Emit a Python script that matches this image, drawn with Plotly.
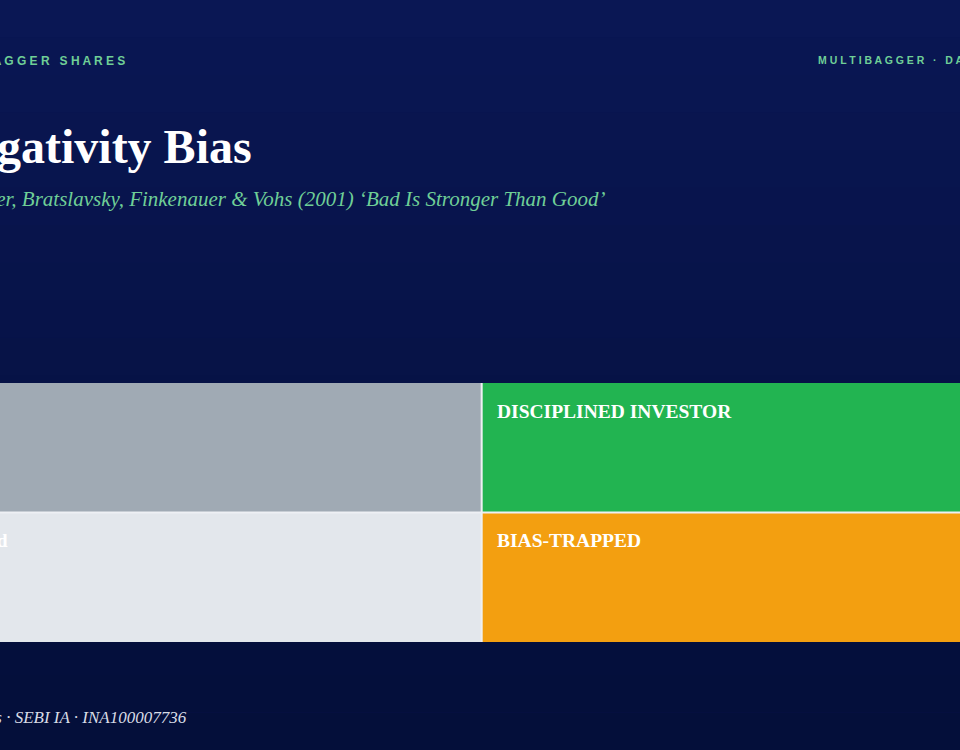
import plotly.graph_objects as go

# 2x2 matrix: columns (low/high discipline), rows (top/bottom)
cols = ["Reactive", "Disciplined"]
rows = ["Bias-Trapped row", "Disciplined row"]
cell_codes = [[1, 3],   # bottom row: light grey, orange
              [0, 2]]   # top row: grey, green
cell_labels = [["Emotion-Led", "BIAS-TRAPPED"],
               ["", "DISCIPLINED INVESTOR"]]

W, H = 960, 750
serif = "Liberation Serif, DejaVu Serif, serif"
sans = "Liberation Sans, Arial, sans-serif"

colorscale = [[0.0, "#a0aab4"], [0.25, "#a0aab4"],
              [0.25, "#e3e7ec"], [0.5, "#e3e7ec"],
              [0.5, "#22b451"], [0.75, "#22b451"],
              [0.75, "#f39f10"], [1.0, "#f39f10"]]

fig = go.Figure(go.Heatmap(
    z=cell_codes, x=[0, 1], y=[0, 1],
    zmin=-0.5, zmax=3.5, colorscale=colorscale, showscale=False,
    hoverinfo="skip"))

# vertical background gradient, top navy -> darker bottom
top_c = (10, 23, 84)
bot_c = (4, 15, 58)
n = 20
for i in range(n):
    f = i / (n - 1)
    c = tuple(int(top_c[k] + (bot_c[k] - top_c[k]) * f) for k in range(3))
    fig.add_shape(type="rect", xref="paper", yref="paper", x0=0, x1=1,
                  y0=1 - (i + 1) / n, y1=1 - i / n, line_width=0,
                  fillcolor="rgb(%d,%d,%d)" % c, layer="below")

# white dividers between the quadrants
fig.add_shape(type="line", xref="x", yref="y", x0=0.5, x1=0.5, y0=-0.5, y1=1.5,
              line=dict(color="#eef0f4", width=2))
fig.add_shape(type="line", xref="x", yref="y", x0=-0.5, x1=1.5, y0=0.5, y1=0.5,
              line=dict(color="#eef0f4", width=2))

def px(x, y):
    return x / W, 1 - y / H

def ann(text, x, y, size, color, font, anchor="left", bold=False, italic=False):
    t = text
    if bold:
        t = "<b>" + t + "</b>"
    if italic:
        t = "<i>" + t + "</i>"
    ax, ay = px(x, y)
    fig.add_annotation(text=t, x=ax, y=ay, xref="paper", yref="paper",
                       xanchor=anchor, yanchor="middle", showarrow=False,
                       font=dict(size=size, color=color, family=font))

ann("M U L T I B A G G E R &nbsp; S H A R E S", 127, 61, 12, "#6fcf97", sans, "right", bold=True)
ann("M U L T I B A G G E R &nbsp; · &nbsp; D A T A", 816, 60, 10.5, "#6fcf97", sans, "left", bold=True)
ann("Negativity Bias", 254, 146, 48, "#ffffff", serif, "right", bold=True)
ann("Baumeister, Bratslavsky, Finkenauer &amp; Vohs (2001) ‘Bad Is Stronger Than Good’",
    607, 199, 21, "#6fcf97", serif, "right", italic=True)
ann("Multibagger Shares · SEBI IA · INA100007736", 189, 717, 17, "#d8dce6", serif, "right", italic=True)

# cell labels placed in data coordinates
lab_font = dict(size=19.5, color="white", family=serif)
fig.add_annotation(text="<b>" + cell_labels[1][1] + "</b>", x=0.528, y=1.28, xref="x", yref="y",
                   xanchor="left", showarrow=False, font=lab_font)
fig.add_annotation(text="<b>" + cell_labels[0][1] + "</b>", x=0.528, y=0.28, xref="x", yref="y",
                   xanchor="left", showarrow=False, font=lab_font)
fig.add_annotation(text="<b>" + cell_labels[0][0] + "</b>", x=-0.477, y=0.28, xref="x", yref="y",
                   xanchor="right", showarrow=False, font=lab_font)

fig.update_xaxes(range=[-0.497, 1.49], visible=False, domain=[0, 1], fixedrange=True)
fig.update_yaxes(range=[-0.5, 1.5], visible=False, domain=[108 / H, 367 / H], fixedrange=True)
fig.update_layout(width=W, height=H, margin=dict(l=0, r=0, t=0, b=0),
                  paper_bgcolor="#081550", plot_bgcolor="#f0f2f5", showlegend=False)

fig.write_html("out.html", config={"displayModeBar": False},
               post_script="document.body.style.margin='0';document.body.style.background='#081550';")
